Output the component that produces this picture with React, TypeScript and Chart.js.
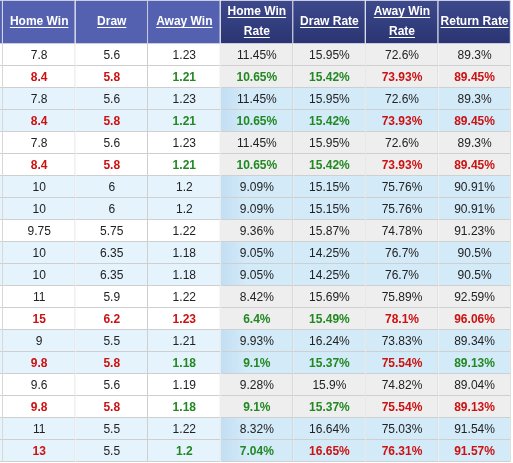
import React, { useEffect, useRef } from "react";
import { Chart, registerables } from "chart.js";
Chart.register(...registerables);

const headers = ["Home Win", "Draw", "Away Win", "Home Win\nRate", "Draw Rate", "Away Win\nRate", "Return Rate"];
const homeWin = ["7.8", "8.4", "7.8", "8.4", "7.8", "8.4", "10", "10", "9.75", "10", "10", "11", "15", "9", "9.8", "9.6", "9.8", "11", "13"];
const draw = ["5.6", "5.8", "5.6", "5.8", "5.6", "5.8", "6", "6", "5.75", "6.35", "6.35", "5.9", "6.2", "5.5", "5.8", "5.6", "5.8", "5.5", "5.5"];
const awayWin = ["1.23", "1.21", "1.23", "1.21", "1.23", "1.21", "1.2", "1.2", "1.22", "1.18", "1.18", "1.22", "1.23", "1.21", "1.18", "1.19", "1.18", "1.22", "1.2"];
const homeRate = ["11.45%", "10.65%", "11.45%", "10.65%", "11.45%", "10.65%", "9.09%", "9.09%", "9.36%", "9.05%", "9.05%", "8.42%", "6.4%", "9.93%", "9.1%", "9.28%", "9.1%", "8.32%", "7.04%"];
const drawRate = ["15.95%", "15.42%", "15.95%", "15.42%", "15.95%", "15.42%", "15.15%", "15.15%", "15.87%", "14.25%", "14.25%", "15.69%", "15.49%", "16.24%", "15.37%", "15.9%", "15.37%", "16.64%", "16.65%"];
const awayRate = ["72.6%", "73.93%", "72.6%", "73.93%", "72.6%", "73.93%", "75.76%", "75.76%", "74.78%", "76.7%", "76.7%", "75.89%", "78.1%", "73.83%", "75.54%", "74.82%", "75.54%", "75.03%", "76.31%"];
const returnRate = ["89.3%", "89.45%", "89.3%", "89.45%", "89.3%", "89.45%", "90.91%", "90.91%", "91.23%", "90.5%", "90.5%", "92.59%", "96.06%", "89.34%", "89.13%", "89.04%", "89.13%", "91.54%", "91.57%"];
// bookmaker group of each row (alternating shading per group)
const rowGroup = [0, 0, 1, 1, 2, 2, 3, 3, 4, 5, 5, 6, 6, 7, 7, 8, 8, 9, 9];
// rows (0-based) that show the change versus the previous row
const changedRows = [1, 3, 5, 12, 14, 16, 18];

const columns = [homeWin, draw, awayWin, homeRate, drawRate, awayRate, returnRate];
const HEADER_ROWS = 2;

const FONT = '"Liberation Sans", Arial, sans-serif';
const C = {
  headA: "#5361b0",
  headB1: "#3d4a8c",
  headB2: "#2a3472",
  white: "#ffffff",
  grey: "#eeeeee",
  blue: "#e5f3fc",
  blueRate: "#d3eaf8",
  blueRateEdge: "#c2def3",
  border: "#cfcfcf",
  headBorder: "#c9cce0",
  text: "#222222",
  red: "#cc1111",
  green: "#228822",
};

function cellColor(col: number, row: number): { color: string; bold: boolean } {
  if (!changedRows.includes(row) || row === 0) return { color: C.text, bold: false };
  const cur = parseFloat(columns[col][row]);
  const prev = parseFloat(columns[col][row - 1]);
  if (cur > prev) return { color: C.red, bold: true };
  if (cur < prev) return { color: C.green, bold: true };
  return { color: C.text, bold: false };
}

const textPlugin = {
  id: "cellText",
  afterDatasetsDraw(chart: any) {
    const ctx = chart.ctx as CanvasRenderingContext2D;
    ctx.save();
    ctx.textAlign = "center";
    ctx.textBaseline = "middle";
    chart.data.datasets.forEach((_ds: any, di: number) => {
      const col = di - 1;
      if (col < 0) return;
      const meta = chart.getDatasetMeta(di);
      meta.data.forEach((bar: any, r: number) => {
        const cx = (bar.x + bar.base) / 2;
        if (r === 0) {
          const lines = headers[col].split("\n");
          const cy = bar.y + bar.height / 2;
          const lh = 20;
          ctx.font = `bold 12px ${FONT}`;
          ctx.fillStyle = "#ffffff";
          ctx.strokeStyle = "#ffffff";
          ctx.lineWidth = 1;
          lines.forEach((ln, i) => {
            const y = cy + (i - (lines.length - 1) / 2) * lh;
            ctx.fillText(ln, cx, y);
            const w = ctx.measureText(ln).width;
            const uy = Math.round(y + 5) + 0.5;
            ctx.beginPath();
            ctx.moveTo(cx - w / 2, uy);
            ctx.lineTo(cx + w / 2, uy);
            ctx.stroke();
          });
          return;
        }
        if (r < HEADER_ROWS) return;
        const row = r - HEADER_ROWS;
        const st = cellColor(col, row);
        ctx.font = `${st.bold ? "bold " : ""}12px ${FONT}`;
        ctx.fillStyle = st.color;
        ctx.fillText(columns[col][row], cx, bar.y + 0.5);
      });
    });
    ctx.restore();
  },
};

export default function App() {
  const ref = useRef<HTMLCanvasElement | null>(null);
  useEffect(() => {
    const prevMargin = document.body.style.margin;
    document.body.style.margin = "0";
    const labels = [
      ...Array.from({ length: HEADER_ROWS }, (_, i) => `h${i}`),
      ...homeWin.map((_, i) => `r${i}`),
    ];
    const colIdx = [-1, 0, 1, 2, 3, 4, 5, 6];
    const datasets = colIdx.map((c) => ({
      label: c < 0 ? "edge" : headers[c],
      data: labels.map(() => [c, c + 1]),
      backgroundColor: (ctx: any) => {
        const r = ctx.dataIndex;
        const chart = ctx.chart;
        const rate = c >= 3;
        if (r < HEADER_ROWS) {
          if (!rate) return C.headA;
          const area = chart.chartArea;
          if (!area) return C.headB2;
          const band = (area.bottom - area.top) / labels.length;
          const g = chart.ctx.createLinearGradient(0, area.top, 0, area.top + band * HEADER_ROWS);
          g.addColorStop(0, C.headB1);
          g.addColorStop(1, C.headB2);
          return g;
        }
        const row = r - HEADER_ROWS;
        const blue = rowGroup[row] % 2 === 1;
        if (!rate) return blue ? C.blue : C.white;
        if (!blue) return C.grey;
        if (c === 3 && chart.scales && chart.scales.x) {
          const x0 = chart.scales.x.getPixelForValue(3);
          const x1 = chart.scales.x.getPixelForValue(4);
          const g = chart.ctx.createLinearGradient(x0, 0, x1, 0);
          g.addColorStop(0, C.blueRateEdge);
          g.addColorStop(0.35, C.blueRate);
          g.addColorStop(1, C.blueRate);
          return g;
        }
        return C.blueRate;
      },
      borderColor: (ctx: any) => (ctx.dataIndex < HEADER_ROWS ? C.headBorder : C.border),
      borderWidth: (ctx: any) => ({
        top: ctx.dataIndex === 0 ? 1 : 0,
        left: 0,
        right: 1,
        bottom: ctx.dataIndex === 0 ? 0 : 1,
      }),
      borderSkipped: false,
      inflateAmount: 0,
      grouped: false,
      barPercentage: 1,
      categoryPercentage: 1,
    }));
    const chart = new Chart(ref.current as HTMLCanvasElement, {
      type: "bar",
      data: { labels, datasets: datasets as any },
      options: {
        indexAxis: "y",
        animation: false,
        responsive: false,
        devicePixelRatio: 1,
        layout: { padding: 0 },
        plugins: { legend: { display: false }, tooltip: { enabled: false } },
        scales: {
          x: { type: "linear", min: -0.04, max: 7.03, display: false },
          y: { type: "category", display: false, offset: true },
        },
      },
      plugins: [textPlugin],
    });
    return () => {
      chart.destroy();
      document.body.style.margin = prevMargin;
    };
  }, []);
  return (
    <div style={{ width: 513, height: 462, background: "#ffffff" }}>
      <canvas ref={ref} width={513} height={462} style={{ display: "block" }} />
    </div>
  );
}
